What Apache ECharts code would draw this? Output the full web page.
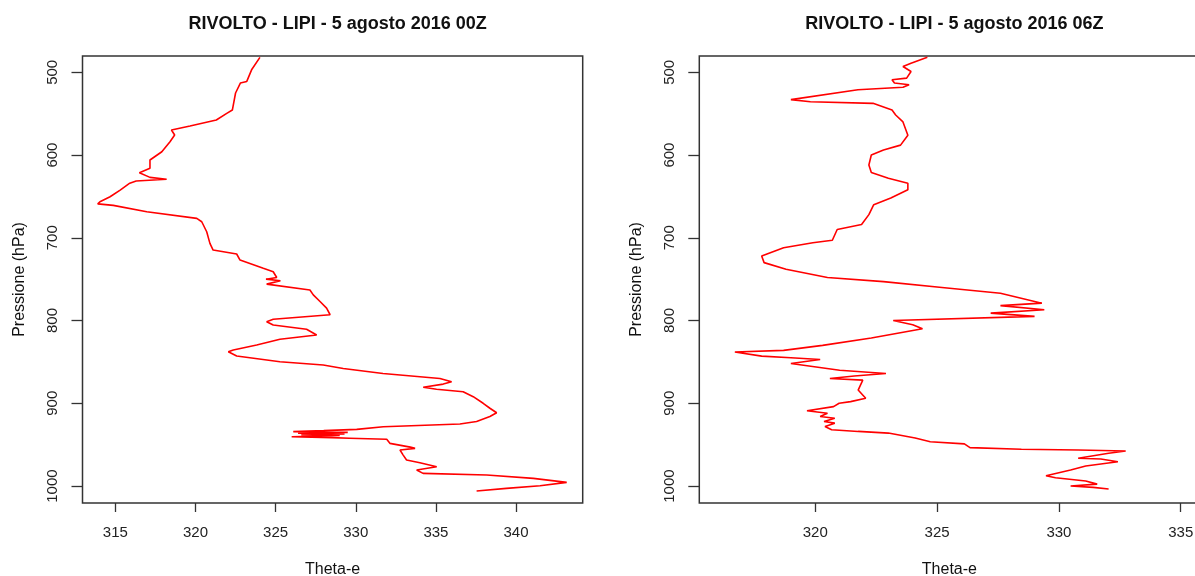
<!DOCTYPE html>
<html>
<head>
<meta charset="utf-8">
<script src="https://cdn.jsdelivr.net/npm/echarts@6/dist/echarts.min.js"></script>
<style>
  html, body { margin: 0; padding: 0; background: #fff; }
  #chart { width: 1195px; height: 576px; }
</style>
</head>
<body>
<div id="chart"></div>
<script>
// Sounding profiles: equivalent potential temperature (Theta-e) vs pressure
const titles = ['RIVOLTO - LIPI - 5 agosto 2016 00Z', 'RIVOLTO - LIPI - 5 agosto 2016 06Z'];
const pressureTicks = [500, 600, 700, 800, 900, 1000];
const thetaTicks00 = [315, 320, 325, 330, 335, 340];
const thetaTicks06 = [320, 325, 330, 335];

// 00Z profile
const theta00 = [
  324.02, 323.5, 323.2, 322.8, 322.5, 322.3, 321.95, 321.3, 319.66, 318.5,
  318.7, 318.41, 317.9, 317.16, 317.16, 316.5, 317.16, 318.2, 316.3, 315.9,
  315.3, 314.67, 314.04, 313.9, 314.87, 316.96, 320.08, 320.39, 320.7, 320.9,
  321.1, 322.57, 322.78, 324.23, 324.85, 325.07, 324.4, 325.3, 324.44, 327.14,
  327.35, 327.77, 328.18, 328.4, 324.85, 324.44, 324.85, 326.93, 327.56, 325.27,
  323.82, 322.36, 322.05, 322.57, 325.27, 327.97, 329.22, 331.7, 335.25, 335.98,
  335.46, 334.21, 335.04, 336.7, 337.33, 337.95, 338.37, 338.79, 338.37, 337.54,
  336.5, 331.72, 330.06, 328.0, 326.1, 329.5, 326.4, 329.3, 326.6, 329.0,
  326.0, 328.5, 329.6, 331.93, 332.13, 333.4, 333.7, 332.76, 332.96, 333.17,
  334.0, 335.05, 333.8, 334.2, 338.17, 341.08, 343.16, 341.5, 339.4, 337.54
];
const pres00 = [
  481.9, 497, 511, 513, 525, 545.6, 549.6, 557.6, 565, 569.7,
  575.8, 583.9, 596, 606, 616, 621.3, 627, 629.3, 631.4, 634,
  642.3, 650.4, 656.4, 659, 660.8, 668.5, 676.5, 680.6, 692.7, 706.7,
  714.8, 719.6, 726.9, 736.9, 741, 748, 750, 752, 756, 763,
  769, 777, 785, 793, 798.5, 801.4, 805.4, 810.6, 817.5, 822.7,
  829.6, 835.6, 837.7, 842.9, 849.8, 853.8, 858, 864, 870, 874,
  876.8, 880.7, 883.1, 886, 892, 900, 906, 911.4, 916, 922,
  925, 928.3, 931.5, 933, 934.3, 935.2, 936, 937, 938, 939,
  940.5, 941.5, 942.2, 943.5, 948.4, 953, 954.5, 956.5, 962.6, 968.6,
  971.8, 976.7, 980.7, 984.7, 986.7, 990.7, 995.6, 999.6, 1002.8, 1006
];

// 06Z profile
const theta06 = [
  324.6, 323.93, 323.6, 323.93, 323.75, 323.15, 323.25, 323.85, 323.6, 321.75,
  319.0, 319.8, 322.37, 323.15, 323.3, 323.6, 323.8, 323.5, 322.8, 322.3,
  322.2, 322.3, 323.0, 323.8, 323.8, 323.1, 322.4, 322.2, 321.9, 320.9,
  320.7, 319.9, 318.7, 317.8, 317.9, 318.8, 320.5, 322.8, 325.2, 327.6,
  329.3, 327.6, 329.4, 327.2, 329.0, 323.2, 324.0, 324.4, 322.3, 320.3,
  318.7, 316.7, 317.8, 319.0, 320.2, 319.0, 321.0, 322.9, 321.6, 320.6,
  321.95, 321.76, 322.07, 321.45, 320.98, 320.75, 319.66, 319.58, 320.5, 320.2,
  320.8, 320.36, 320.8, 320.4, 320.67, 321.76, 323.0, 324.1, 324.72, 326.12,
  326.35, 328.46, 330.79, 332.74, 332.04, 330.79, 331.72, 332.42, 331.1, 330.48,
  329.47, 329.86, 331.1, 331.57, 330.48, 331.41, 332.04
];
const pres06 = [
  481.9, 489, 493, 499, 507, 509, 513, 515, 518, 521,
  533, 535.5, 537.5, 545.6, 551.6, 560, 576, 588, 594, 600,
  612, 621, 628, 634, 642, 652, 660, 672, 684, 690,
  703, 706, 712, 722, 730, 738, 748, 753, 760, 767,
  779, 782, 787, 791, 795, 800, 805, 810, 821, 830,
  836, 838, 843, 845, 847, 852, 860, 864, 867, 870,
  872, 884, 894, 898, 900, 904, 909, 911.4, 912, 916,
  918, 922, 924, 928, 932, 934, 936, 942, 946.4, 949,
  953.6, 955.5, 956.4, 957.6, 960.4, 966.5, 967.3, 970.6, 975.8, 980.7,
  987.6, 990, 994, 997.7, 1000, 1001.6, 1003.6
];

const FONT = '"Liberation Sans", Arial, sans-serif';
const INK = '#333';

const GRID_TOP = 56, GRID_H = 447, PANEL_W = 500.2;
const panels = [
  { left: 82.5, xMin: 312.95, xMax: 344.16, ticks: thetaTicks00 },
  { left: 699.3, xMin: 315.24, xMax: 335.77, ticks: thetaTicks06 }
];

const chart = echarts.init(document.getElementById('chart'), null, { renderer: 'canvas' });

const option = {
  backgroundColor: '#fff',
  animation: false,
  title: panels.map((p, i) => ({
    text: titles[i],
    left: p.left + PANEL_W / 2,
    top: 10,
    textAlign: 'center',
    textStyle: { fontFamily: FONT, fontSize: 18, fontWeight: 'bold', color: '#111' }
  })),
  grid: panels.map(p => ({
    left: p.left, top: GRID_TOP, width: PANEL_W, height: GRID_H,
    outerBoundsMode: 'none', containLabel: false,
    show: true, borderColor: INK, borderWidth: 1.5, backgroundColor: 'transparent'
  })),
  xAxis: panels.map((p, i) => ({
    type: 'value', gridIndex: i, min: p.xMin, max: p.xMax,
    name: 'Theta-e', nameLocation: 'middle', nameGap: 59,
    nameTextStyle: { fontFamily: FONT, fontSize: 16, color: '#111' },
    axisLine: { show: false },
    splitLine: { show: false },
    axisTick: { show: true, inside: false, length: 9, customValues: p.ticks, lineStyle: { color: INK, width: 1.3 } },
    axisLabel: { show: true, margin: 22, customValues: p.ticks, fontFamily: FONT, fontSize: 15, color: '#222', formatter: v => String(v) }
  })),
  yAxis: panels.map((p, i) => ({
    type: 'value', gridIndex: i, min: 480.3, max: 1020.5, inverse: true,
    name: 'Pressione (hPa)', nameLocation: 'middle', nameGap: 55, nameRotate: 90,
    nameTextStyle: { fontFamily: FONT, fontSize: 16, color: '#111' },
    axisLine: { show: false },
    splitLine: { show: false },
    axisTick: { show: true, inside: false, length: 11, customValues: pressureTicks, lineStyle: { color: INK, width: 1.3 } },
    axisLabel: { show: true, rotate: 90, margin: 22, customValues: pressureTicks, fontFamily: FONT, fontSize: 15, color: '#222', formatter: v => String(v) }
  })),
  series: [
    { theta: theta00, pres: pres00 },
    { theta: theta06, pres: pres06 }
  ].map((s, i) => ({
    type: 'line', xAxisIndex: i, yAxisIndex: i,
    data: s.theta.map((t, k) => [t, s.pres[k]]),
    showSymbol: false, symbol: 'none', clip: true,
    lineStyle: { color: '#ff0000', width: 1.6 }
  }))
};

chart.setOption(option);
</script>
</body>
</html>
